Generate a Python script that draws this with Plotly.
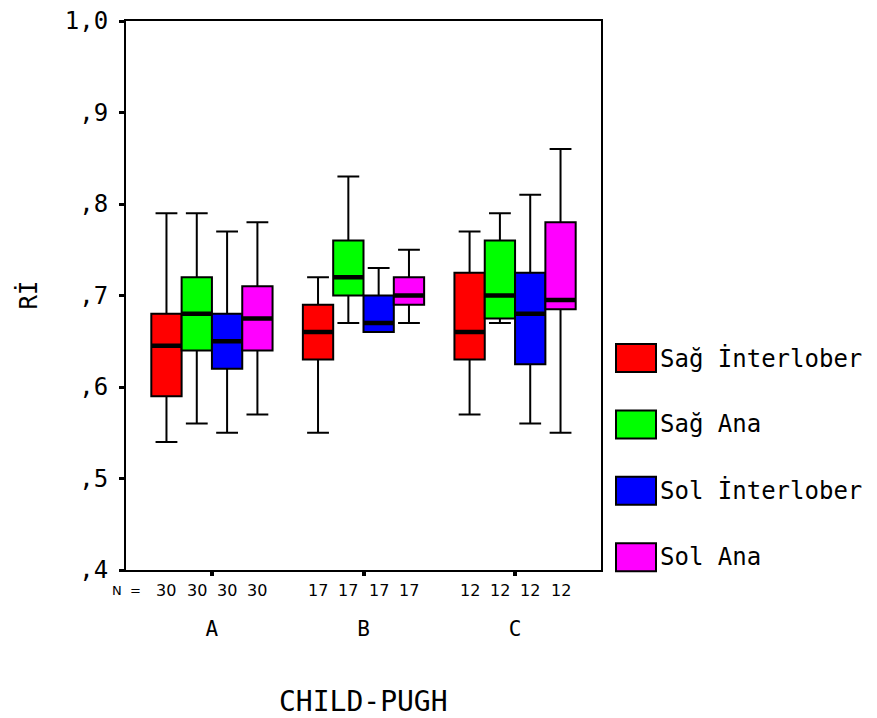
import plotly.graph_objects as go

# ---- data ----
categories = ["A", "B", "C"]
series_names = ["Sağ İnterlober", "Sağ Ana", "Sol İnterlober", "Sol Ana"]
series_colors = ["#FF0000", "#00FF00", "#0000FF", "#FF00FF"]

lower_whisker = [
    [0.54, 0.55, 0.57],   # Sağ İnterlober
    [0.56, 0.67, 0.67],   # Sağ Ana
    [0.55, 0.66, 0.56],   # Sol İnterlober
    [0.57, 0.67, 0.55],   # Sol Ana
]
q1_vals = [
    [0.59, 0.63, 0.63],
    [0.64, 0.70, 0.675],
    [0.62, 0.66, 0.625],
    [0.64, 0.69, 0.685],
]
median_vals = [
    [0.645, 0.66, 0.66],
    [0.68, 0.72, 0.70],
    [0.65, 0.67, 0.68],
    [0.675, 0.70, 0.695],
]
q3_vals = [
    [0.68, 0.69, 0.725],
    [0.72, 0.76, 0.76],
    [0.68, 0.70, 0.725],
    [0.71, 0.72, 0.78],
]
upper_whisker = [
    [0.79, 0.72, 0.77],
    [0.79, 0.83, 0.79],
    [0.77, 0.73, 0.81],
    [0.78, 0.75, 0.86],
]
n_counts = [
    [30, 17, 12],
    [30, 17, 12],
    [30, 17, 12],
    [30, 17, 12],
]
y_tick_vals = [0.4, 0.5, 0.6, 0.7, 0.8, 0.9, 1.0]
y_tick_text = [",4", ",5", ",6", ",7", ",8", ",9", "1,0"]

MONO = "DejaVu Sans Mono"
SANS = "DejaVu Sans"

fig = go.Figure()

for i, name in enumerate(series_names):
    fig.add_trace(go.Box(
        name=name,
        x=categories,
        q1=q1_vals[i],
        median=median_vals[i],
        q3=q3_vals[i],
        lowerfence=lower_whisker[i],
        upperfence=upper_whisker[i],
        fillcolor=series_colors[i],
        line=dict(color="black", width=2),
        whiskerwidth=0.72,
        offsetgroup=str(i),
        boxpoints=False,
        hoverinfo="skip",
        showlegend=False,
    ))

# thick median bars overlaid on the same slots
for i, name in enumerate(series_names):
    fig.add_trace(go.Box(
        name=name + " median",
        x=categories,
        q1=median_vals[i],
        median=median_vals[i],
        q3=median_vals[i],
        lowerfence=median_vals[i],
        upperfence=median_vals[i],
        fillcolor="rgba(0,0,0,0)",
        line=dict(color="black", width=4.5),
        whiskerwidth=0,
        offsetgroup=str(i),
        boxpoints=False,
        hoverinfo="skip",
        showlegend=False,
    ))

annotations = []
shapes = []

# N labels under each box
nser = len(series_names)
for i in range(nser):
    for g in range(len(categories)):
        annotations.append(dict(
            x=g + (i - (nser - 1) / 2) * 0.2, xref="x",
            y=0, yref="paper", yanchor="middle", yshift=-20,
            text=str(n_counts[i][g]), showarrow=False,
            font=dict(family=SANS, size=16, color="black"),
        ))
annotations.append(dict(
    x=0, xref="paper", y=0, yref="paper", yanchor="middle", yshift=-20,
    xanchor="center", text="N  =", showarrow=False,
    font=dict(family=SANS, size=13, color="black"),
))

# axis titles
annotations.append(dict(
    x=0.5, xref="paper", y=0, yref="paper", yanchor="middle", yshift=-131,
    text="CHILD-PUGH", showarrow=False,
    font=dict(family=MONO, size=28, color="black"),
))
annotations.append(dict(
    x=0, xref="paper", xshift=-98, xanchor="center",
    y=0.5, yref="paper", yanchor="middle",
    text="Rİ", textangle=-90, showarrow=False,
    font=dict(family=MONO, size=24, color="black"),
))

# custom legend
for i, name in enumerate(series_names):
    cy = 212 - i * 66.4
    shapes.append(dict(
        type="rect", xref="paper", yref="paper",
        xsizemode="pixel", ysizemode="pixel",
        xanchor=1, yanchor=0,
        x0=15, x1=55, y0=cy - 14, y1=cy + 14,
        fillcolor=series_colors[i], line=dict(color="black", width=2),
    ))
    annotations.append(dict(
        x=1, xref="paper", xshift=57, xanchor="left",
        y=0, yref="paper", yshift=cy, yanchor="middle",
        text=name, showarrow=False,
        font=dict(family=MONO, size=24, color="black"),
    ))

# page body adds an 8px offset; size the figure so it fits the 877x718 window
fig.update_layout(
    width=869, height=710,
    margin=dict(l=118, r=276, t=13, b=148, autoexpand=False),
    plot_bgcolor="white", paper_bgcolor="white",
    boxmode="group", boxgap=0.2, boxgroupgap=0,
    showlegend=False,
    annotations=annotations,
    shapes=shapes,
    font=dict(family=MONO, color="black"),
)
fig.update_xaxes(
    type="category",
    range=[-0.567, 2.567],
    automargin=False,
    showline=True, mirror=True, linecolor="black", linewidth=2,
    ticks="outside", ticklen=4, tickwidth=4, tickcolor="black",
    ticklabelstandoff=35,
    tickfont=dict(family=MONO, size=21, color="black"),
    showgrid=False, zeroline=False,
)
fig.update_yaxes(
    range=[0.4, 1.0],
    automargin=False,
    tickvals=y_tick_vals, ticktext=y_tick_text,
    ticklabeloverflow="allow",
    showline=True, mirror=True, linecolor="black", linewidth=2,
    ticks="outside", ticklen=5, tickwidth=3, tickcolor="black",
    ticklabelstandoff=6,
    tickfont=dict(family=MONO, size=24, color="black"),
    showgrid=False, zeroline=False,
)

fig.write_html("out.html")
